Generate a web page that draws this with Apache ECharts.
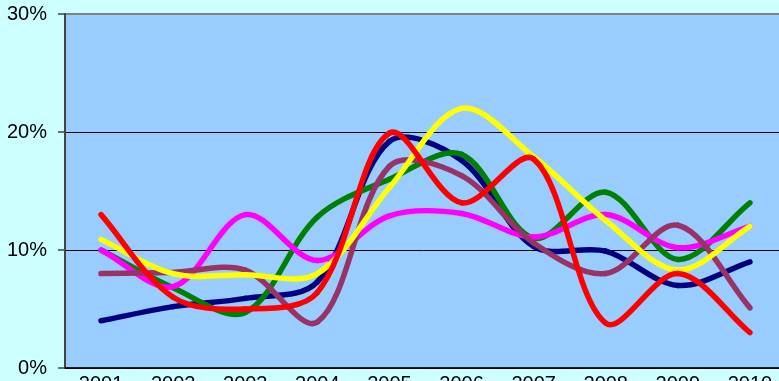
<!DOCTYPE html>
<html>
<head>
<meta charset="utf-8">
<script src="https://cdn.jsdelivr.net/npm/echarts@6/dist/echarts.min.js"></script>
<style>
  html, body { margin: 0; padding: 0; background: #CCFFFF; }
  #chart { width: 779px; height: 381px; }
</style>
</head>
<body>
<div id="chart"></div>
<script>
// Year categories along the x axis
const years = ['2001', '2002', '2003', '2004', '2005', '2006', '2007', '2008', '2009', '2010'];

// Series values, in percent
const navySeries    = [4, 5.2, 5.9, 7.3, 19.2, 17.6, 10.3, 9.9, 7.0, 9];
const greenSeries   = [10, 6.8, 4.7, 12.8, 16, 18.1, 11, 14.9, 9.2, 14];
const magentaSeries = [10, 6.9, 13, 9.1, 12.9, 13.1, 11.1, 13, 10.2, 12];
const plumSeries    = [8, 8.1, 8.3, 3.9, 17.1, 16.3, 10.6, 8, 12.1, 5.1];
const yellowSeries  = [10.9, 8, 7.9, 8, 15.3, 22, 17.9, 12.5, 8.3, 12];
const redSeries     = [13, 6, 5, 6.4, 19.9, 14, 17.7, 3.8, 8, 3];

// Value axis ticks
const yTicks = { min: 0, max: 30, interval: 10 };

const chart = echarts.init(document.getElementById('chart'), null, { renderer: 'canvas' });

// Smoothed line drawn segment by segment as cubic Bezier curves.
// Tangent at each point follows its neighbours, split by chord length;
// all positions come from the axes via api.coord.
function smoothLine(name, values, color) {
  const n = values.length;
  const tension = 1 / 3;
  return {
    name: name,
    type: 'custom',
    data: values.map((v, i) => [i, v]),
    encode: { x: 0, y: 1 },
    clip: false,
    renderItem: function (params, api) {
      const i = params.dataIndex;
      if (i >= n - 1) return null;
      const pt = k => {
        const j = Math.max(0, Math.min(n - 1, k));
        return api.coord([j, values[j]]);
      };
      const dist = (a, b) => Math.hypot(a[0] - b[0], a[1] - b[1]);
      const p0 = pt(i - 1), p1 = pt(i), p2 = pt(i + 1), p3 = pt(i + 2);
      const d01 = dist(p0, p1), d12 = dist(p1, p2), d23 = dist(p2, p3);
      const f1 = tension * d12 / (d01 + d12);
      const f2 = tension * d12 / (d12 + d23);
      return {
        type: 'bezierCurve',
        shape: {
          x1: p1[0], y1: p1[1],
          x2: p2[0], y2: p2[1],
          cpx1: p1[0] + (p2[0] - p0[0]) * f1,
          cpy1: p1[1] + (p2[1] - p0[1]) * f1,
          cpx2: p2[0] - (p3[0] - p1[0]) * f2,
          cpy2: p2[1] - (p3[1] - p1[1]) * f2
        },
        style: {
          fill: null,
          stroke: color,
          lineWidth: 5.5,
          lineCap: 'round',
          lineJoin: 'round'
        }
      };
    }
  };
}

chart.setOption({
  backgroundColor: '#CCFFFF',
  animation: false,
  grid: {
    left: 65, top: 14, width: 721, height: 354,
    outerBoundsMode: 'none',
    containLabel: false,
    show: true, backgroundColor: '#99CCFF',
    borderColor: '#808080', borderWidth: 2
  },
  xAxis: {
    type: 'category',
    data: years,
    boundaryGap: true,
    axisLine: { lineStyle: { color: '#000000', width: 1.5 } },
    axisTick: { show: false },
    axisLabel: {
      color: '#000000', fontSize: 20, margin: 6,
      fontFamily: 'Liberation Sans, Arial, sans-serif'
    }
  },
  yAxis: {
    type: 'value',
    min: yTicks.min, max: yTicks.max, interval: yTicks.interval,
    axisLine: { show: true, lineStyle: { color: '#444444', width: 2 } },
    axisTick: { show: true, length: 7, lineStyle: { color: '#444444', width: 1.5 } },
    axisLabel: {
      color: '#000000', fontSize: 20, margin: 18,
      fontFamily: 'Liberation Sans, Arial, sans-serif',
      formatter: '{value}%'
    },
    splitLine: {
      show: true,
      lineStyle: { color: ['#000000', '#000000', '#000000', '#808080'], width: 1 }
    }
  },
  series: [
    smoothLine('navy', navySeries, '#000080'),
    smoothLine('green', greenSeries, '#008000'),
    smoothLine('magenta', magentaSeries, '#FF00FF'),
    smoothLine('plum', plumSeries, '#993366'),
    smoothLine('yellow', yellowSeries, '#FFFF00'),
    smoothLine('red', redSeries, '#FF0000')
  ]
});
</script>
</body>
</html>
